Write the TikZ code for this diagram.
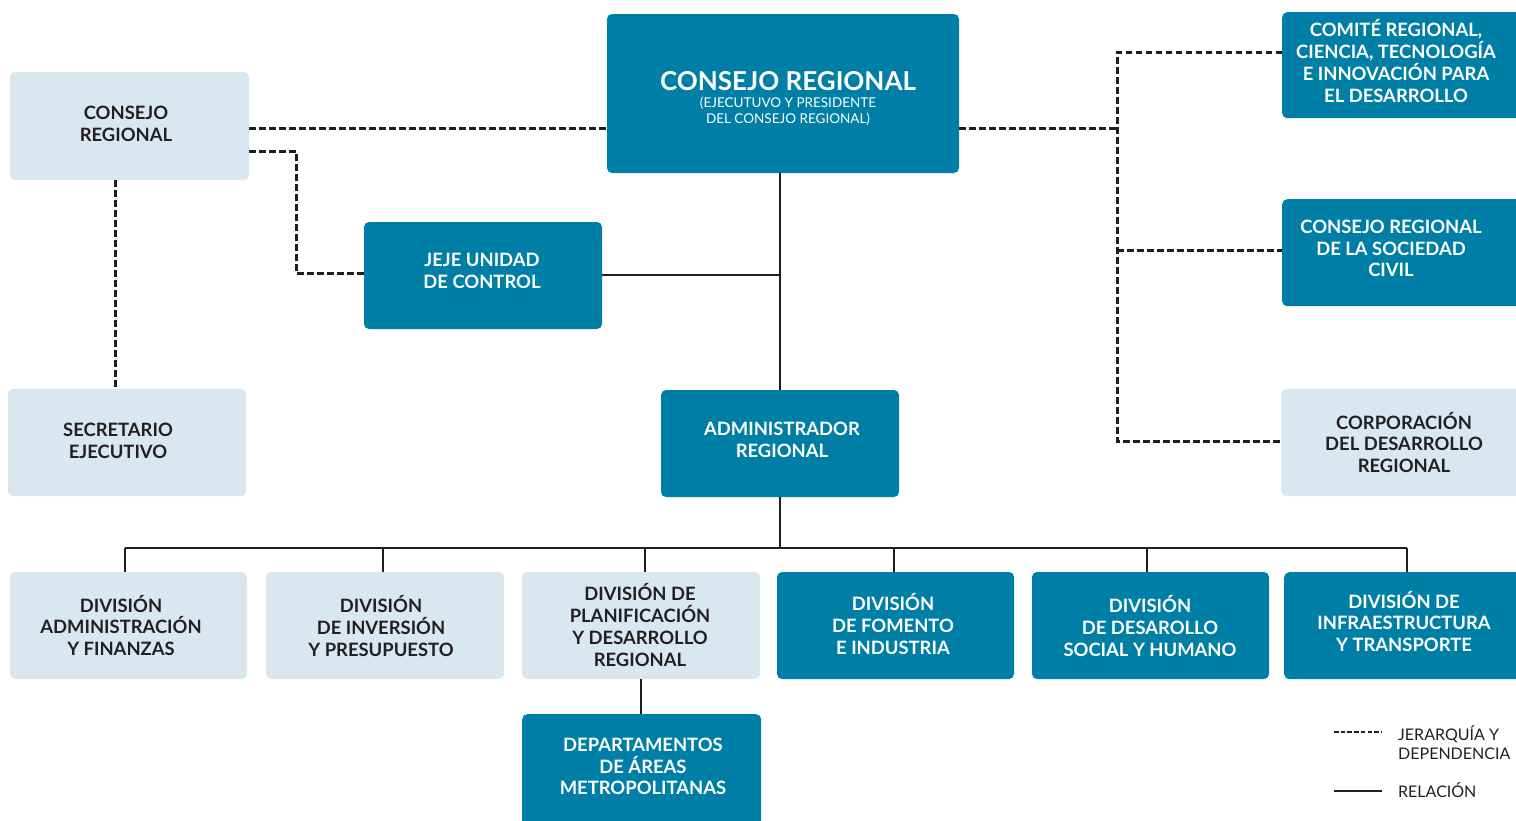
\documentclass[tikz,border=0pt]{standalone}
\usepackage{fontspec}
\setmainfont{Lato}
\definecolor{teal1}{RGB}{0,127,166}
\definecolor{light1}{RGB}{217,232,240}
\definecolor{txt1}{RGB}{35,31,32}
\definecolor{line1}{RGB}{30,30,30}
\begin{document}
\begin{tikzpicture}[x=1pt,y=-1pt,
  boxbase/.style={rounded corners=5pt, draw=none, align=center, inner sep=0pt,
    font=\fontsize{18.4}{21.7}\selectfont\bfseries},
  dark/.style={boxbase, fill=teal1, text=white},
  light/.style={boxbase, fill=light1, text=txt1},
  wtext/.style={align=center, inner sep=0pt, text=white, font=\fontsize{18.4}{21.7}\selectfont\bfseries},
  rel/.style={line width=2.5pt, draw=line1},
  dep/.style={line width=3pt, draw=line1, dash pattern=on 6.5pt off 3.5pt},
  legtext/.style={anchor=west, align=left, inner sep=0pt, text=txt1, font=\fontsize{16}{19.5}\selectfont}]
\useasboundingbox (0,0) rectangle (1516,820);
% top level
\node[dark, minimum width=352pt, minimum height=159pt] (main) at (783,93.5) {};
\node[wtext, font=\fontsize{26}{28}\selectfont\bfseries] (maintitle) at (788,81) {CONSEJO REGIONAL};
\node[wtext, font=\fontsize{13.5}{16}\selectfont] (mainsub) at (788,111) {(EJECUTUVO Y PRESIDENTE\\DEL CONSEJO REGIONAL)};
\node[light, minimum width=239pt, minimum height=108pt] (lcr) at (129.5,126) {};
\node[wtext, text=txt1] (lcrtxt) at (126,124) {CONSEJO\\REGIONAL};
\node[dark, minimum width=238pt, minimum height=107pt] (jeje) at (483,275.5) {};
\node[wtext] (jejetxt) at (482,271) {JEJE UNIDAD\\DE CONTROL};
\node[light, minimum width=238pt, minimum height=107pt] (sec) at (127,442.5) {};
\node[wtext, text=txt1] (sectxt) at (118,441) {SECRETARIO\\EJECUTIVO};
\node[dark, minimum width=238pt, minimum height=107pt] (adm) at (780,443.5) {};
\node[wtext] (admtxt) at (782,440) {ADMINISTRADOR\\REGIONAL};
% right column (cut at right edge)
\node[dark, anchor=north west, minimum width=250pt, minimum height=106pt] (comite) at (1282,12) {};
\node[wtext] (comitetxt) at (1396,61) {COMITÉ REGIONAL,\\CIENCIA, TECNOLOGÍA\\E INNOVACIÓN PARA\\EL DESARROLLO};
\node[dark, anchor=north west, minimum width=250pt, minimum height=107pt] (soc) at (1282,199) {};
\node[wtext] (soctxt) at (1391,248.5) {CONSEJO REGIONAL\\DE LA SOCIEDAD\\CIVIL};
\node[light, anchor=north west, minimum width=250pt, minimum height=107pt] (corp) at (1281,389) {};
\node[wtext, text=txt1] (corptxt) at (1404,442.5) {CORPORACIÓN\\DEL DESARROLLO\\REGIONAL};
% divisions
\node[light, minimum width=237pt, minimum height=107pt] (d1) at (128.5,625.5) {};
\node[wtext, text=txt1] (d1txt) at (121,625.5) {DIVISIÓN\\ADMINISTRACIÓN\\Y FINANZAS};
\node[light, minimum width=238pt, minimum height=107pt] (d2) at (385,625.5) {};
\node[wtext, text=txt1] (d2txt) at (381,626) {DIVISIÓN\\DE INVERSIÓN\\Y PRESUPUESTO};
\node[light, minimum width=238pt, minimum height=107pt] (d3) at (641,625.5) {};
\node[wtext, text=txt1] (d3txt) at (640,625) {DIVISIÓN DE\\PLANIFICACIÓN\\Y DESARROLLO\\REGIONAL};
\node[dark, minimum width=237pt, minimum height=107pt] (d4) at (895.5,625.5) {};
\node[wtext] (d4txt) at (893,624) {DIVISIÓN\\DE FOMENTO\\E INDUSTRIA};
\node[dark, minimum width=237pt, minimum height=107pt] (d5) at (1150.5,625.5) {};
\node[wtext] (d5txt) at (1150,626) {DIVISIÓN\\DE DESAROLLO\\SOCIAL Y HUMANO};
\node[dark, anchor=north west, minimum width=250pt, minimum height=107pt] (d6) at (1284,572) {};
\node[wtext] (d6txt) at (1404,621.5) {DIVISIÓN DE\\INFRAESTRUCTURA\\Y TRANSPORTE};
\node[dark, anchor=north west, minimum width=239pt, minimum height=130pt] (dept) at (522,714) {};
\node[wtext] (depttxt) at (643,766.5) {DEPARTAMENTOS\\DE ÁREAS\\METROPOLITANAS};
% dashed connectors
\draw[dep] (lcr.east |- 0,128) -- (main.west |- 0,128);
\draw[dep] (lcr.east |- 0,151) -| (296,273) -- (jeje.west |- 0,273);
\draw[dep] (lcr.south -| 115,0) -- (sec.north -| 115,0);
\coordinate (rbus) at (1117,128);
\draw[dep] (main.east |- 0,128) -- (rbus);
\draw[dep] (comite.west |- 0,52) -- (1117,52) -- (1117,441) -- (corp.west |- 0,441);
\draw[dep] (1117,250) -- (soc.west |- 0,250);
% solid connectors
\draw[rel] (main.south -| 780,0) -- (adm.north -| 780,0);
\draw[rel] (jeje.east |- 0,275) -- (780,275);
\coordinate (bus) at (780,548);
\draw[rel] (adm.south -| 780,0) -- (bus);
\draw[rel] (125,548) -- (1407,548);
\draw[rel] (d1.north -| 125,0) -- (125,548);
\draw[rel] (d2.north -| 383,0) -- (383,548);
\draw[rel] (d3.north -| 645,0) -- (645,548);
\draw[rel] (d4.north -| 894,0) -- (894,548);
\draw[rel] (d5.north -| 1147,0) -- (1147,548);
\draw[rel] (d6.north -| 1407,0) -- (1407,548);
\draw[rel] (d3.south -| 641,0) -- (dept.north -| 641,0);
% legend
\coordinate (la) at (1334,732); \coordinate (lb) at (1381,732);
\draw[line width=2.5pt, draw=line1, dash pattern=on 4.5pt off 2.2pt] (la) -- (lb);
\coordinate (lc) at (1334,791); \coordinate (ld) at (1382,791);
\draw[rel] (lc) -- (ld);
\node[legtext] (leg1) at (1398,742.5) {JERARQUÍA Y\\DEPENDENCIA};
\node[legtext] (leg2) at (1398,790) {RELACIÓN};
\end{tikzpicture}
\end{document}
